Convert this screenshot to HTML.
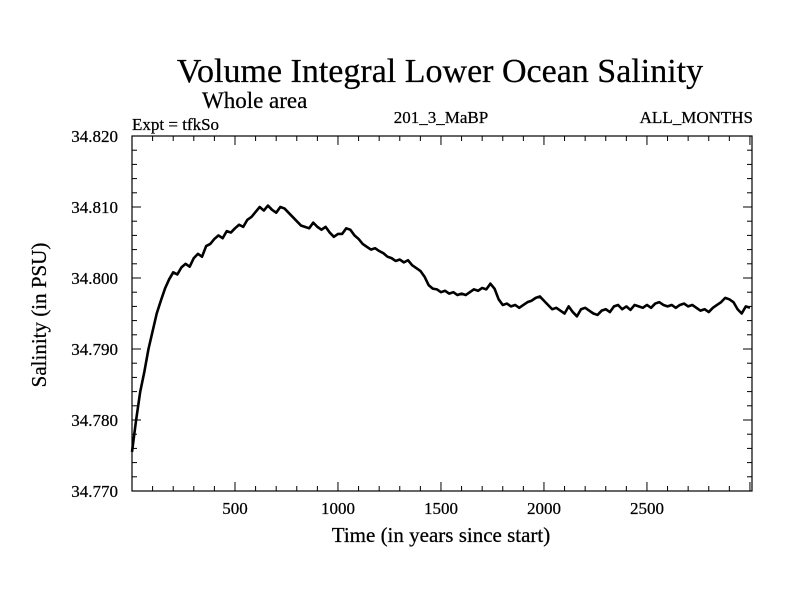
<!DOCTYPE html>
<html><head><meta charset="utf-8"><style>
html,body{margin:0;padding:0;background:#fff}
svg{display:block;font-family:"Liberation Serif",serif}
svg text{stroke:#000;stroke-width:0.25px}
</style></head><body>
<svg id="chart" width="800" height="600" viewBox="0 0 800 600">
<text x="440" y="82" font-size="34" text-anchor="middle">Volume Integral Lower Ocean Salinity</text>
<text x="202" y="108" font-size="23">Whole area</text>
<text x="132" y="130" font-size="17">Expt = tfkSo</text>
<text x="441" y="123" font-size="17" text-anchor="middle">201_3_MaBP</text>
<text x="753" y="123" font-size="17" text-anchor="end">ALL_MONTHS</text>
<text x="0" y="0" font-size="21" text-anchor="middle" transform="translate(46,315) rotate(-90)">Salinity (in PSU)</text>
<text x="441" y="542" font-size="21" text-anchor="middle">Time (in years since start)</text>
<g id="axes"></g>
<g id="series"></g>
</svg>
<script>
const yTickValues=[34.770,34.780,34.790,34.800,34.810,34.820];
const yTickLabels=["34.770","34.780","34.790","34.800","34.810","34.820"];
const xTickValues=[500,1000,1500,2000,2500];
const xTickLabels=["500","1000","1500","2000","2500"];
const yearStart=0;
const yearStep=20;
const salinity=[34.7755,34.7800,34.7840,34.7868,34.7900,34.7925,34.7950,34.7968,34.7985,34.7998,
34.8008,34.8005,34.8015,34.8020,34.8016,34.8028,34.8034,34.8030,34.8045,34.8048,
34.8055,34.8060,34.8056,34.8066,34.8064,34.8070,34.8075,34.8072,34.8082,34.8086,
34.8093,34.8100,34.8095,34.8102,34.8096,34.8092,34.8100,34.8098,34.8092,34.8086,
34.8080,34.8074,34.8072,34.8070,34.8078,34.8072,34.8068,34.8072,34.8064,34.8058,
34.8062,34.8062,34.8070,34.8068,34.8060,34.8055,34.8048,34.8044,34.8040,34.8042,
34.8038,34.8035,34.8030,34.8028,34.8024,34.8026,34.8022,34.8025,34.8018,34.8014,
34.8010,34.8002,34.7990,34.7985,34.7984,34.7980,34.7982,34.7978,34.7980,34.7976,
34.7978,34.7976,34.7980,34.7984,34.7982,34.7986,34.7984,34.7992,34.7985,34.7970,
34.7962,34.7964,34.7960,34.7962,34.7958,34.7962,34.7966,34.7968,34.7972,34.7974,
34.7968,34.7962,34.7956,34.7958,34.7954,34.7950,34.7960,34.7952,34.7946,34.7956,
34.7958,34.7954,34.7950,34.7948,34.7954,34.7956,34.7952,34.7960,34.7962,34.7956,
34.7960,34.7955,34.7962,34.7960,34.7958,34.7962,34.7958,34.7964,34.7966,34.7962,
34.7960,34.7962,34.7958,34.7962,34.7964,34.7960,34.7962,34.7958,34.7954,34.7956,
34.7952,34.7958,34.7962,34.7966,34.7972,34.7970,34.7966,34.7956,34.7950,34.7960,34.7958];
const NS="http://www.w3.org/2000/svg";
const L=132,R=752,T=136,B=491,X0=0,X1=3010,Y0=34.770,Y1=34.820;
function sx(v){return L+(v-X0)/(X1-X0)*(R-L);}
function sy(v){return B-(v-Y0)/(Y1-Y0)*(B-T);}
function mk(tag,attrs,parent){const e=document.createElementNS(NS,tag);for(const k in attrs)e.setAttribute(k,attrs[k]);parent.appendChild(e);return e;}
const axes=document.getElementById('axes');
const frame=mk('rect',{x:L,y:T,width:R-L,height:B-T,fill:'none',stroke:'#000','stroke-width':1.2},axes);


for(let v=100;v<X1;v+=100){
  const major=v%500===0;const len=major?9:5;const x=sx(v);
  const t1=mk('line',{x1:x,y1:B,x2:x,y2:B-len,stroke:'#000','stroke-width':1},axes);
  
  
  const t2=mk('line',{x1:x,y1:T,x2:x,y2:T+len,stroke:'#000','stroke-width':1},axes);
  
  
}
for(let i=0;i<=25;i++){
  const v=Y0+i*0.002;const major=i%5===0;const len=major?9:5;const y=sy(v);
  const t1=mk('line',{x1:L,y1:y,x2:L+len,y2:y,stroke:'#000','stroke-width':1},axes);
  
  
  const t2=mk('line',{x1:R,y1:y,x2:R-len,y2:y,stroke:'#000','stroke-width':1},axes);
  
  
}
yTickValues.forEach((v,i)=>{
  const t=mk('text',{x:118,y:sy(v)+6,'font-size':17,'text-anchor':'end'},axes);
  t.textContent=yTickLabels[i];
  
  
});
xTickValues.forEach((v,i)=>{
  const t=mk('text',{x:sx(v),y:514,'font-size':17,'text-anchor':'middle'},axes);
  t.textContent=xTickLabels[i];
  
  
});
const pts=salinity.map((v,i)=>sx(yearStart+i*yearStep).toFixed(2)+','+sy(v).toFixed(2)).join(' ');
const line=mk('polyline',{points:pts,fill:'none',stroke:'#000','stroke-width':2.6,'stroke-linejoin':'round'},document.getElementById('series'));


</script>
</body></html>
